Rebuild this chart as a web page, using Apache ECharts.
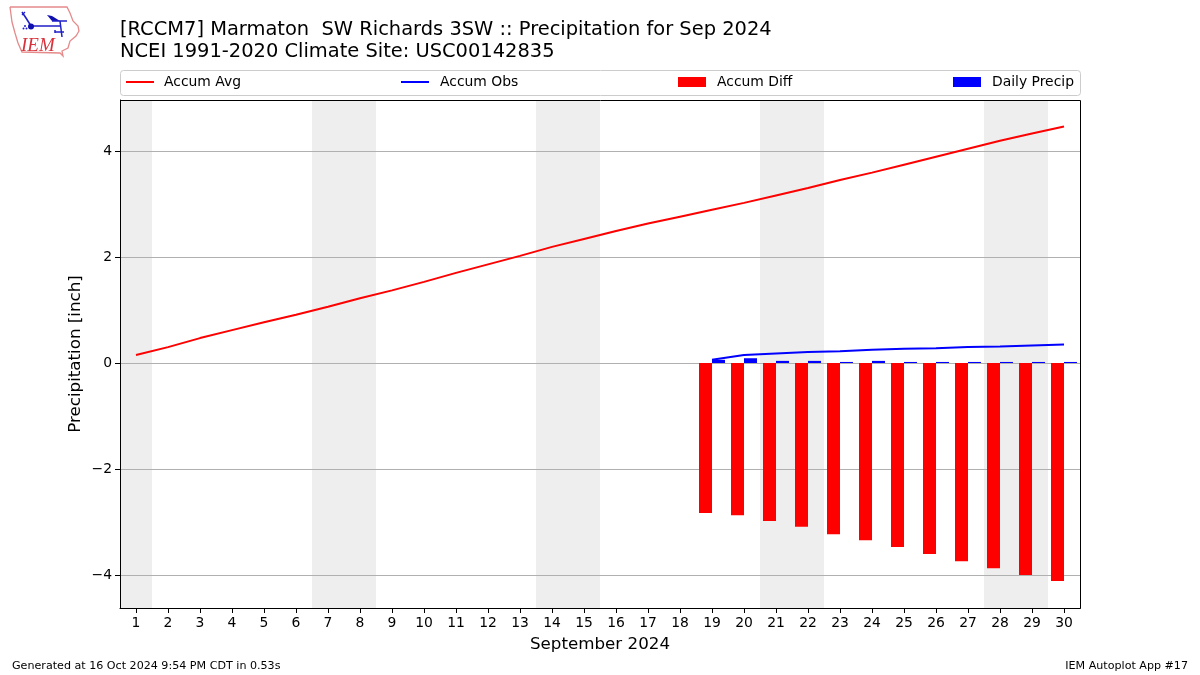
<!DOCTYPE html>
<html>
<head>
<meta charset="utf-8">
<style>html,body{margin:0;padding:0;background:#fff}#c{width:1200px;height:675px}</style>
<script src="https://cdn.jsdelivr.net/npm/echarts@6/dist/echarts.min.js"></script>
</head>
<body>
<div id="c"></div>
<script>
const days = ['1','2','3','4','5','6','7','8','9','10','11','12','13','14','15','16','17','18','19','20','21','22','23','24','25','26','27','28','29','30'];
const yTicks = [-4,-2,0,2,4];
const accumAvg = [0.15,0.30,0.47,0.62,0.77,0.91,1.06,1.22,1.37,1.53,1.70,1.86,2.02,2.19,2.34,2.49,2.63,2.76,2.89,3.02,3.16,3.30,3.45,3.59,3.74,3.89,4.04,4.19,4.33,4.46];
const accumObs = [null,null,null,null,null,null,null,null,null,null,null,null,null,null,null,null,null,null,0.06,0.15,0.18,0.21,0.22,0.25,0.27,0.28,0.30,0.31,0.33,0.35];
const accumDiff = [null,null,null,null,null,null,null,null,null,null,null,null,null,null,null,null,null,null,-2.83,-2.87,-2.98,-3.09,-3.23,-3.34,-3.47,-3.60,-3.74,-3.87,-4.00,-4.11];
const dailyPrecip = [null,null,null,null,null,null,null,null,null,null,null,null,null,null,null,null,null,null,0.06,0.09,0.04,0.04,0.02,0.04,0.02,0.02,0.02,0.02,0.02,0.02];
const weekendSpans = [[0.5,1.5],[6.5,8.5],[13.5,15.5],[20.5,22.5],[27.5,29.5]];
const font = 'DejaVu Sans';
const legendSpots = [['Accum Avg',126,2,5],['Accum Obs',401,2,6],['Accum Diff',678,10,6],['Daily Precip',953,10,6]];
const chart = echarts.init(document.getElementById('c'),null,{renderer:'canvas'});
const logoBlue = '#2020c8';
chart.setOption({
  animation:false,
  backgroundColor:'#fff',
  textStyle:{fontFamily:font},
  title:[
    {text:'[RCCM7] Marmaton  SW Richards 3SW :: Precipitation for Sep 2024\nNCEI 1991-2020 Climate Site: USC00142835',left:120,top:19,padding:0,
     textStyle:{fontFamily:font,fontSize:19.45,fontWeight:'normal',color:'#000',lineHeight:22}},
    {text:'Generated at 16 Oct 2024 9:54 PM CDT in 0.53s',left:12,top:661,padding:0,textStyle:{fontFamily:font,fontSize:11.11,fontWeight:'normal',color:'#000'}},
    {text:'IEM Autoplot App #17',right:12,top:661,padding:0,textStyle:{fontFamily:font,fontSize:11.11,fontWeight:'normal',color:'#000'}}
  ],
  legend:legendSpots.map(([name,x,h,gap])=>({data:[{name,icon:'rect'}],left:x,top:75,padding:0,itemWidth:28,itemHeight:h,itemGap:0,
    textStyle:{fontFamily:font,fontSize:13.9,color:'#000',padding:[0,0,0,gap]},selectedMode:false})),
  grid:{left:120,top:100,width:960,height:508,show:false,containLabel:false},
  xAxis:[
    {type:'category',data:days,boundaryGap:true,
     name:'September 2024',nameLocation:'middle',nameGap:28,nameTextStyle:{fontFamily:font,fontSize:16.7,color:'#000'},
     axisLine:{show:true,onZero:false,lineStyle:{color:'#000',width:1}},
     axisTick:{show:true,alignWithLabel:true,length:5,lineStyle:{color:'#000',width:1}},
     axisLabel:{interval:0,fontFamily:font,fontSize:13.9,color:'#000',margin:8},
     splitLine:{show:false}},
    {type:'value',min:0.5,max:30.5,show:false,splitLine:{show:false}}
  ],
  yAxis:{type:'value',min:-4.62,max:4.96,
     name:'Precipitation [inch]',nameLocation:'middle',nameGap:36,nameMoveOverlap:false,nameTextStyle:{fontFamily:font,fontSize:16.7,color:'#000'},
     axisLine:{show:true,onZero:false,lineStyle:{color:'#000',width:1}},
     axisTick:{show:true,length:5,customValues:yTicks,lineStyle:{color:'#000',width:1}},
     axisLabel:{customValues:yTicks,fontFamily:font,fontSize:13.9,color:'#000',margin:8,formatter:v=>String(v).replace('-','\u2212')},
     splitLine:{show:true,lineStyle:{color:'#b0b0b0',width:1}}
  },
  series:[
    {name:'Weekends',type:'line',xAxisIndex:1,data:[],z:-1,silent:true,
     markArea:{z:-1,silent:true,itemStyle:{color:'#eeeeee'},data:weekendSpans.map(([a,b])=>[{xAxis:a},{xAxis:b}])}},
    {name:'Accum Diff',type:'bar',data:accumDiff,barWidth:13,barGap:0,itemStyle:{color:'#ff0000'},z:3},
    {name:'Daily Precip',type:'bar',data:dailyPrecip,barWidth:13,barGap:0,itemStyle:{color:'#0000ff'},z:3},
    {name:'Accum Avg',type:'line',data:accumAvg,symbol:'none',lineStyle:{color:'#ff0000',width:2},itemStyle:{color:'#ff0000'},z:4},
    {name:'Accum Obs',type:'line',data:accumObs,symbol:'none',lineStyle:{color:'#0000ff',width:2},itemStyle:{color:'#0000ff'},z:4}
  ],
  graphic:[
    {type:'rect',shape:{x:120.5,y:70.5,width:960,height:25,r:3},style:{fill:'#fff',stroke:'#cccccc',lineWidth:1},z:-10},
    {type:'rect',shape:{x:120.5,y:100.5,width:960,height:508},style:{fill:'none',stroke:'#000',lineWidth:1},z:10},
    {type:'polyline',shape:{points:[[10,7],[67,7],[70,13],[73,21],[78,26],[79,31],[76,36],[70,41],[68,48],[62,51],[63,56],[60,53],[22,52],[18,43],[15,33],[12,22],[10,7]]},style:{fill:'none',stroke:'#e58a8a',lineWidth:1.3}},
    {type:'text',style:{text:'IEM',x:21,y:36,fontFamily:'Liberation Serif',fontStyle:'italic',fontSize:19,fill:'#d8323c'}},
    {type:'polyline',shape:{points:[[22,12],[26,18],[31,26],[60,26]]},style:{fill:'none',stroke:logoBlue,lineWidth:1.6}},
    {type:'polyline',shape:{points:[[22,15],[25,12]]},style:{fill:'none',stroke:logoBlue,lineWidth:1.3}},
    {type:'circle',shape:{cx:31,cy:26.5,r:3},style:{fill:'#1010b0'}},
    {type:'polygon',shape:{points:[[47,15],[52,16],[60,21],[52,21]]},style:{fill:'#1010b0'}},
    {type:'polyline',shape:{points:[[52,21],[67,21]]},style:{fill:'none',stroke:logoBlue,lineWidth:1.5}},
    {type:'polyline',shape:{points:[[60,21],[62,37]]},style:{fill:'none',stroke:logoBlue,lineWidth:1.5}},
    {type:'polyline',shape:{points:[[55,32],[64,32]]},style:{fill:'none',stroke:logoBlue,lineWidth:1.5}},
    {type:'polyline',shape:{points:[[55,30],[55,33]]},style:{fill:'none',stroke:logoBlue,lineWidth:1.5}},
    {type:'circle',shape:{cx:25,cy:26,r:1},style:{fill:logoBlue}},
    {type:'circle',shape:{cx:23.5,cy:28.5,r:1},style:{fill:logoBlue}},
    {type:'circle',shape:{cx:26.5,cy:28.5,r:1},style:{fill:logoBlue}}
  ]
});
</script>
</body>
</html>
